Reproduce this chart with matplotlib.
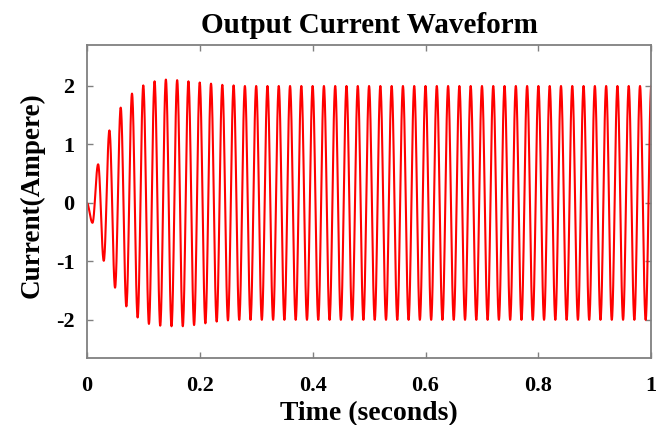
import numpy as np
import matplotlib
matplotlib.use("Agg")
import matplotlib.pyplot as plt

# waveform: 50 Hz, one extremum every half period
half_period = 0.01
start_value = 0.0
# extrema of the start-up transient (t = 0.01, 0.02, ...)
transient_extrema = [-0.34, 0.66, -0.99, 1.24, -1.45, 1.63, -1.77, 1.87, -1.96, 2.01,
                     -2.07, 2.08, -2.10, 2.11, -2.11, 2.10, -2.11, 2.08, -2.09, 2.06,
                     -2.06, 2.04, -2.03, 2.02, -2.01, 2.01, -2.00]
steady_amplitude = 2.0
n_half_cycles = 100

x_ticks = [0, 0.2, 0.4, 0.6, 0.8, 1]
x_ticklabels = ["0", "0.2", "0.4", "0.6", "0.8", "1"]
y_ticks = [-2, -1, 0, 1, 2]
y_ticklabels = ["-2", "-1", "0", "1", "2"]

# extremum list: transient then steady alternating +/- amplitude
extrema = [start_value] + list(transient_extrema)
for k in range(len(extrema), n_half_cycles + 1):
    extrema.append(steady_amplitude if k % 2 == 0 else -steady_amplitude)
ext_t = np.arange(len(extrema)) * half_period

# half-cosine shape between consecutive extrema
t_parts, y_parts = [], []
for i in range(len(extrema) - 1):
    s = np.linspace(0, 1, 24, endpoint=False)
    t_parts.append(ext_t[i] + s * half_period)
    y_parts.append(extrema[i] + (extrema[i + 1] - extrema[i]) * (1 - np.cos(np.pi * s)) / 2)
t_parts.append([ext_t[-1]]); y_parts.append([extrema[-1]])
t = np.concatenate(t_parts)
current = np.concatenate(y_parts)

plt.rcParams["font.family"] = ["Liberation Serif", "DejaVu Serif"]
plt.rcParams["font.weight"] = "bold"

fig = plt.figure(figsize=(6.68, 4.25), dpi=100)
ax = fig.add_axes([0.130, 0.158, 0.845, 0.736])
ax.plot(t, current, color="#ff0000", lw=1.5)

ax.set_xlim(0, 1)
ax.set_ylim(-2.65, 2.7)
ax.set_xticks(x_ticks, x_ticklabels)
ax.set_yticks(y_ticks, y_ticklabels)
ax.tick_params(direction="in", length=4, width=1, colors="#808080", labelcolor="black",
               labelsize=16, top=True, right=True)
ax.tick_params(axis="x", pad=13)
ax.tick_params(axis="y", pad=9)
for lab in ax.get_xticklabels() + ax.get_yticklabels():
    lab.set_fontweight("bold")
for sp in ax.spines.values():
    sp.set_color("#808080"); sp.set_linewidth(1.3)

ax.set_title("Output Current Waveform", fontsize=21, fontweight="bold", pad=9)
ax.set_xlabel("Time (seconds)", fontsize=20, fontweight="bold", labelpad=4)
ax.set_ylabel("Current(Ampere)", fontsize=19.5, fontweight="bold")
ax.yaxis.set_label_coords(-0.0745, 0.52)

fig.savefig("out.png", dpi=100)
